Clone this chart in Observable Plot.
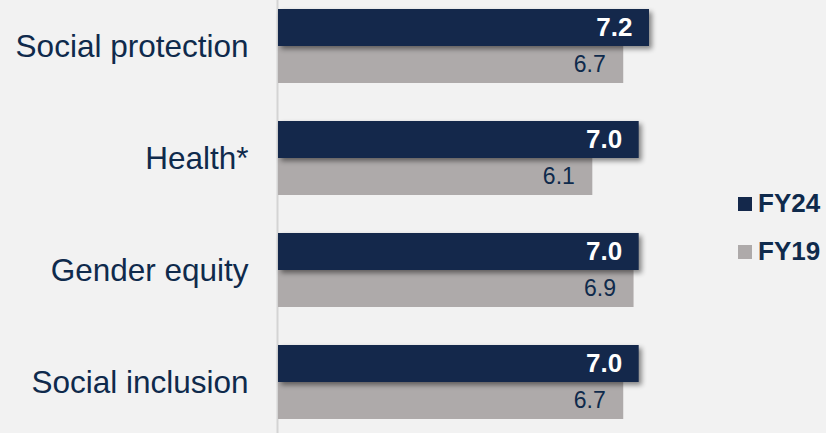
<!DOCTYPE html>
<html><head><meta charset="utf-8">
<script src="https://cdn.jsdelivr.net/npm/d3@7"></script>
<script src="https://cdn.jsdelivr.net/npm/@observablehq/plot@0.6"></script>
<style>
body{margin:0;background:#f2f2f2;font-family:"Liberation Sans",Arial,sans-serif;}
#wrap{position:relative;width:826px;height:433px;overflow:hidden;}
.sw{position:absolute;width:13.5px;height:13.5px;}
.lt{position:absolute;font-size:26px;line-height:26px;font-weight:bold;color:#0f2a4c;white-space:nowrap;}
</style></head><body><div id="wrap"></div>
<script>
const categories = ["Social protection", "Health*", "Gender equity", "Social inclusion"];
const fy24 = [7.2, 7.0, 7.0, 7.0];
const fy19 = [6.7, 6.1, 6.9, 6.7];
const seriesNames = ["FY24", "FY19"];
const seriesColors = ["#14284b", "#aeaaaa"];

const data24 = categories.map((c, i) => ({category: c, value: fy24[i]}));
const data19 = categories.map((c, i) => ({category: c, value: fy19[i]}));
const navy = "#0f2a4c";

const chart = Plot.plot({
  width: 826,
  height: 433,
  marginLeft: 278,
  marginRight: 177,
  marginTop: 0,
  marginBottom: 0,
  style: {background: "transparent", fontFamily: "'Liberation Sans', Arial, sans-serif", overflow: "visible"},
  x: {domain: [0, 7.2], axis: null},
  y: {domain: categories, paddingInner: 0.343, paddingOuter: 0.0932, align: 0.381, label: null},
  marks: [
    Plot.ruleX([0], {stroke: "#d4d4d4", strokeWidth: 2, dx: -1}),
    Plot.barX(data19, {y: "category", x: "value", fill: seriesColors[1], insetTop: 37}),
    Plot.barX(data24, {y: "category", x: "value", fill: seriesColors[0], insetBottom: 37}),
    Plot.text(data24, {y: "category", x: "value", text: d => d.value.toFixed(1), textAnchor: "end", dx: -17, dy: -18.5, fill: "white", fontWeight: "bold", fontSize: 26}),
    Plot.text(data19, {y: "category", x: "value", text: d => d.value.toFixed(1), textAnchor: "end", dx: -18, dy: 18.5, fill: navy, fontSize: 23}),
    Plot.axisY({tickSize: 0, tickPadding: 30, fontSize: 31.5, color: navy, label: null})
  ]
});

const wrap = document.getElementById("wrap");
wrap.appendChild(chart);
const bars = chart.querySelectorAll('g[aria-label="bar"]');
if (bars.length > 1) bars[1].style.filter = "drop-shadow(3px 3px 2.5px rgba(0,0,0,0.45))";
chart.querySelectorAll('g[aria-label="y-axis tick label"] text, g[aria-label="y-axis tick label"]').forEach(e => e.setAttribute("fill", navy));

const legendTops = [190.3, 238];
const swatchTops = [197.3, 245.3];
seriesNames.forEach((s, i) => {
  const sw = document.createElement("div");
  sw.className = "sw";
  sw.style.left = "738px";
  sw.style.top = swatchTops[i] + "px";
  sw.style.background = seriesColors[i];
  wrap.appendChild(sw);
  const t = document.createElement("div");
  t.className = "lt";
  t.style.left = "758px";
  t.style.top = legendTops[i] + "px";
  t.textContent = s;
  wrap.appendChild(t);
});
</script></body></html>
